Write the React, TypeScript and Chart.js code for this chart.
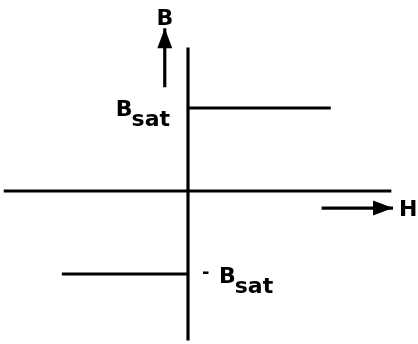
import { useEffect, useRef } from "react";
import { Chart, registerables } from "chart.js";

Chart.register(...registerables);

// Ideal (square-loop) B–H characteristic, in units of B_sat.
const B_SAT = 1;
const H_AXIS = [-2.22, 2.45];
const B_AXIS = [-1.8, 1.73];
const UPPER_BRANCH_H = [0, 1.72];
const LOWER_BRANCH_H = [-1.52, 0];

// Axis-direction arrows: [start, tip]
const B_ARROW_AT_H = -0.28;
const B_ARROW = [1.25, 1.96];
const H_ARROW_AT_B = -0.205;
const H_ARROW = [1.61, 2.47];

// Visible window of the diagram
const H_RANGE = [-2.265, 2.771];
const B_RANGE = [-1.843, 2.301];

const INK = "#000000";
const FONT = 'bold 22px "DejaVu Sans", sans-serif';

type Pt = { x: number; y: number };

const seg = (pts: Pt[], arrow = false) => ({
  data: pts,
  showLine: true,
  borderColor: INK,
  backgroundColor: INK,
  borderWidth: 3.2,
  borderCapStyle: "butt" as const,
  pointRadius: 0,
  pointHoverRadius: 0,
  tension: 0,
  clip: false as const,
  arrow,
});

const arrowHeads = {
  id: "arrowHeads",
  afterDatasetsDraw(chart: any) {
    const { ctx } = chart;
    const xs = chart.scales.x;
    const ys = chart.scales.y;
    chart.data.datasets.forEach((ds: any) => {
      if (!ds.arrow) return;
      const n = ds.data.length;
      const a = ds.data[n - 2];
      const b = ds.data[n - 1];
      const x0 = xs.getPixelForValue(a.x);
      const y0 = ys.getPixelForValue(a.y);
      const x1 = xs.getPixelForValue(b.x);
      const y1 = ys.getPixelForValue(b.y);
      const ang = Math.atan2(y1 - y0, x1 - x0);
      const len = 20;
      const half = 7.5;
      ctx.save();
      ctx.translate(x1, y1);
      ctx.rotate(ang);
      ctx.beginPath();
      ctx.moveTo(0, 0);
      ctx.lineTo(-len, -half);
      ctx.lineTo(-len, half);
      ctx.closePath();
      ctx.fillStyle = INK;
      ctx.fill();
      ctx.restore();
    });
  },
};

const labels = {
  id: "labels",
  afterDraw(chart: any) {
    const { ctx } = chart;
    const xs = chart.scales.x;
    const ys = chart.scales.y;
    const px = (v: number) => xs.getPixelForValue(v);
    const py = (v: number) => ys.getPixelForValue(v);
    ctx.save();
    ctx.fillStyle = INK;
    ctx.font = FONT;
    ctx.textBaseline = "alphabetic";

    // "B" above the vertical arrow
    ctx.textAlign = "center";
    ctx.fillText("B", px(B_ARROW_AT_H), py(B_ARROW[1]) - 3);

    // "H" after the horizontal arrow
    ctx.textAlign = "left";
    ctx.fillText("H", px(H_ARROW[1]) + 6, py(H_ARROW_AT_B) + 8);

    // B_sat to the left of the axis, at the upper branch
    const axisX = px(0);
    const subW = ctx.measureText("sat").width;
    const bW = ctx.measureText("B").width;
    const upY = py(B_SAT);
    const subEnd = axisX - 18;
    ctx.fillText("sat", subEnd - subW, upY + 18);
    ctx.fillText("B", subEnd - subW - bW + 1, upY + 8);

    // -B_sat to the right of the axis, at the lower branch
    const loY = py(-B_SAT);
    ctx.font = 'bold 18px "DejaVu Sans", sans-serif';
    ctx.fillText("-", axisX + 14, loY + 4);
    ctx.font = FONT;
    ctx.fillText("B", axisX + 31, loY + 9);
    ctx.fillText("sat", axisX + 30 + bW, loY + 19);
    ctx.restore();
  },
};

export default function App() {
  const ref = useRef<HTMLCanvasElement | null>(null);

  useEffect(() => {
    document.body.style.margin = "0";
    const canvas = ref.current;
    if (!canvas) return;
    const chart = new Chart(canvas, {
      type: "scatter",
      data: {
        datasets: [
          seg([
            { x: H_AXIS[0], y: 0 },
            { x: H_AXIS[1], y: 0 },
          ]),
          seg([
            { x: 0, y: B_AXIS[0] },
            { x: 0, y: B_AXIS[1] },
          ]),
          seg([
            { x: UPPER_BRANCH_H[0], y: B_SAT },
            { x: UPPER_BRANCH_H[1], y: B_SAT },
          ]),
          seg([
            { x: LOWER_BRANCH_H[0], y: -B_SAT },
            { x: LOWER_BRANCH_H[1], y: -B_SAT },
          ]),
          seg(
            [
              { x: B_ARROW_AT_H, y: B_ARROW[0] },
              { x: B_ARROW_AT_H, y: B_ARROW[1] },
            ],
            true
          ),
          seg(
            [
              { x: H_ARROW[0], y: H_ARROW_AT_B },
              { x: H_ARROW[1], y: H_ARROW_AT_B },
            ],
            true
          ),
        ] as any,
      },
      options: {
        animation: false,
        responsive: false,
        devicePixelRatio: 1,
        layout: { padding: 0 },
        plugins: {
          legend: { display: false },
          tooltip: { enabled: false },
          title: { display: false },
        },
        events: [],
        scales: {
          x: { type: "linear", display: false, min: H_RANGE[0], max: H_RANGE[1] },
          y: { type: "linear", display: false, min: B_RANGE[0], max: B_RANGE[1] },
        },
      },
      plugins: [arrowHeads, labels],
    });
    return () => chart.destroy();
  }, []);

  return (
    <div style={{ position: "fixed", left: 0, top: 0, width: 418, height: 344, background: "#fff" }}>
      <canvas ref={ref} width={418} height={344} style={{ display: "block" }} />
    </div>
  );
}
